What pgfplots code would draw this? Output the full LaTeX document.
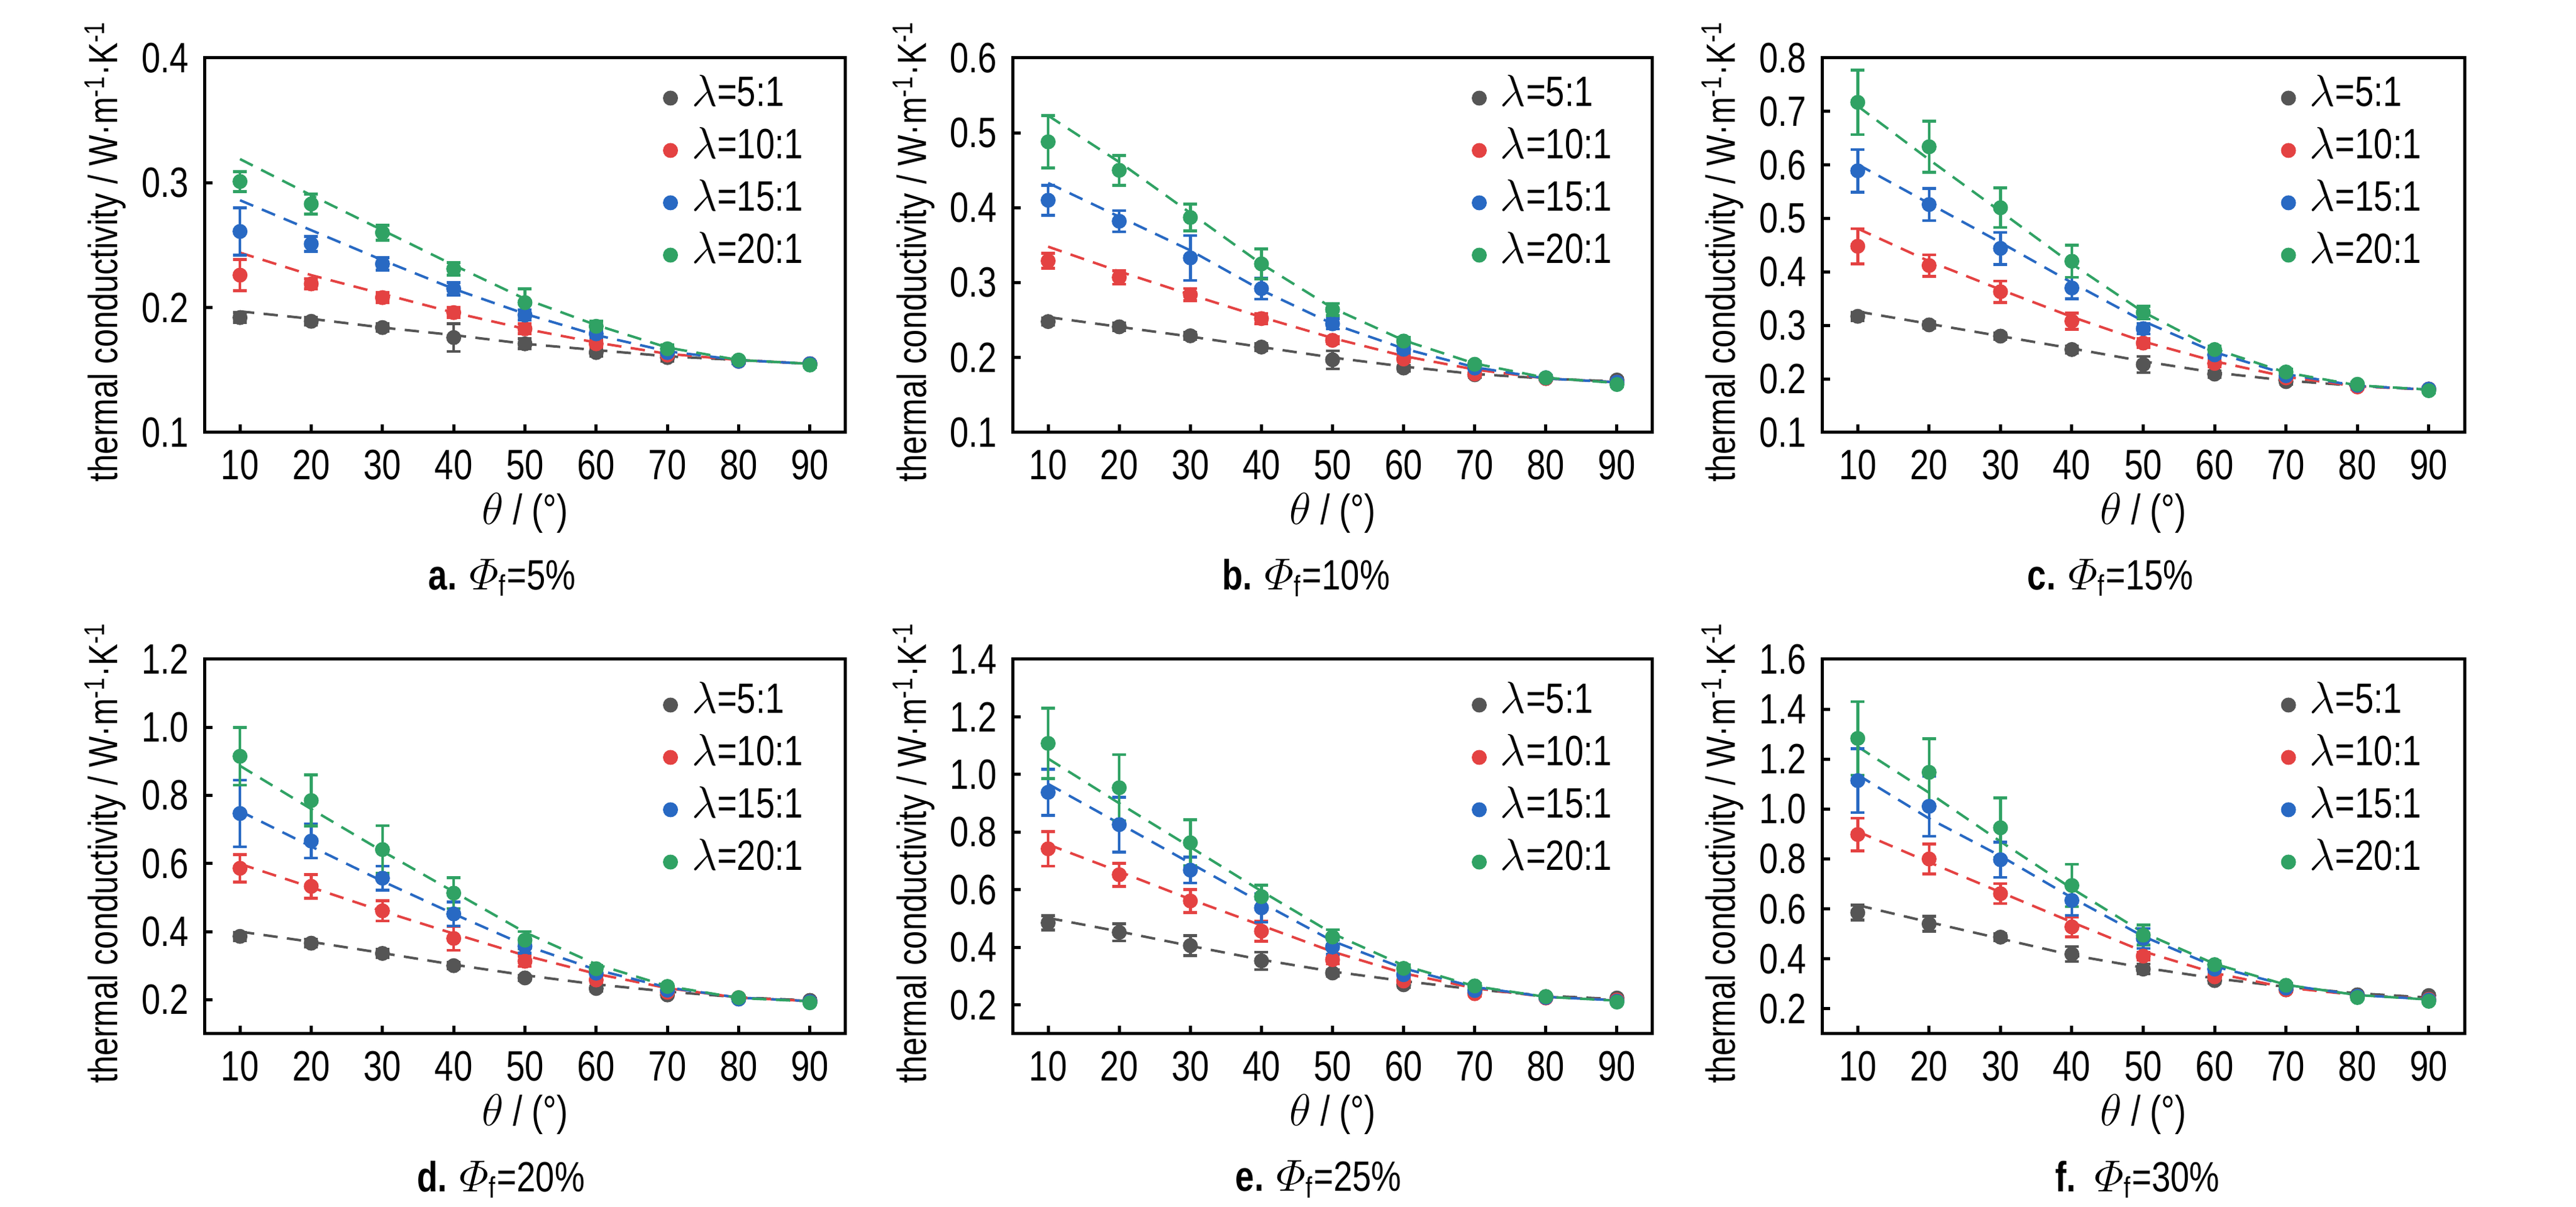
\documentclass[border=0pt]{standalone}
\usepackage{amsmath}
\usepackage{fontspec}
\setmainfont{Liberation Sans}[FakeStretch=0.8]
\usepackage{pgfplots}
\usepackage{pgfplotstable}
\pgfplotsset{compat=1.18}

\definecolor{cgray}{RGB}{85,85,85}
\definecolor{cred}{RGB}{228,66,66}
\definecolor{cblue}{RGB}{40,105,195}
\definecolor{cgreen}{RGB}{48,162,100}

\pgfplotstableread{
x k1 e1 k2 e2 k3 e3 k4 e4
10 0.192 0.004 0.226 0.0125 0.261 0.019 0.301 0.008
20 0.189 0.003 0.219 0.004 0.251 0.006 0.283 0.008
30 0.184 0.003 0.208 0.004 0.235 0.005 0.260 0.006
40 0.176 0.011 0.196 0.004 0.215 0.005 0.231 0.005
50 0.171 0.004 0.183 0.004 0.194 0.004 0.204 0.011
60 0.164 0.003 0.171 0.003 0.179 0.003 0.185 0.004
70 0.160 0.003 0.162 0.003 0.164 0.003 0.167 0.003
80 0.157 0.002 0.157 0.002 0.157 0.002 0.158 0.002
90 0.155 0.002 0.155 0.002 0.155 0.002 0.154 0.002
}\tabA
\pgfplotstableread{
x f1 f2 f3 f4
10 0.197 0.244 0.286 0.319
20 0.191 0.226 0.262 0.290
30 0.184 0.211 0.238 0.262
40 0.178 0.196 0.215 0.234
50 0.171 0.183 0.195 0.207
60 0.166 0.172 0.178 0.186
70 0.161 0.163 0.165 0.168
80 0.158 0.158 0.158 0.158
90 0.155 0.155 0.155 0.155
}\fitA
\pgfplotstableread{
x k1 e1 k2 e2 k3 e3 k4 e4
10 0.248 0.005 0.329 0.010 0.410 0.020 0.488 0.035
20 0.241 0.005 0.307 0.009 0.382 0.014 0.450 0.020
30 0.229 0.005 0.284 0.008 0.333 0.030 0.387 0.018
40 0.214 0.005 0.252 0.007 0.292 0.014 0.325 0.020
50 0.197 0.012 0.223 0.005 0.245 0.007 0.264 0.008
60 0.186 0.004 0.198 0.004 0.211 0.005 0.222 0.005
70 0.177 0.004 0.178 0.004 0.186 0.004 0.191 0.004
80 0.172 0.003 0.172 0.003 0.173 0.003 0.173 0.003
90 0.170 0.003 0.167 0.003 0.167 0.003 0.164 0.003
}\tabB
\pgfplotstableread{
x f1 f2 f3 f4
10 0.254 0.348 0.433 0.523
20 0.241 0.315 0.388 0.461
30 0.228 0.284 0.343 0.393
40 0.214 0.254 0.290 0.325
50 0.200 0.226 0.245 0.266
60 0.188 0.202 0.212 0.223
70 0.178 0.184 0.187 0.192
80 0.172 0.172 0.172 0.173
90 0.168 0.167 0.167 0.166
}\fitB
\pgfplotstableread{
x k1 e1 k2 e2 k3 e3 k4 e4
10 0.317 0.008 0.448 0.033 0.589 0.040 0.717 0.060
20 0.301 0.006 0.412 0.020 0.526 0.030 0.634 0.048
30 0.280 0.006 0.363 0.020 0.444 0.030 0.520 0.037
40 0.255 0.007 0.308 0.015 0.370 0.020 0.420 0.030
50 0.227 0.015 0.267 0.008 0.294 0.010 0.324 0.012
60 0.209 0.006 0.229 0.006 0.245 0.006 0.255 0.006
70 0.195 0.005 0.202 0.005 0.206 0.005 0.213 0.005
80 0.187 0.004 0.185 0.004 0.188 0.004 0.190 0.004
90 0.181 0.004 0.181 0.004 0.181 0.004 0.178 0.004
}\tabC
\pgfplotstableread{
x f1 f2 f3 f4
10 0.326 0.481 0.601 0.710
20 0.303 0.420 0.528 0.610
30 0.280 0.367 0.455 0.513
40 0.257 0.316 0.380 0.415
50 0.233 0.270 0.308 0.325
60 0.212 0.233 0.250 0.256
70 0.197 0.204 0.209 0.212
80 0.187 0.186 0.187 0.188
90 0.180 0.180 0.180 0.180
}\fitC
\pgfplotstableread{
x k1 e1 k2 e2 k3 e3 k4 e4
10 0.386 0.012 0.586 0.040 0.747 0.098 0.915 0.085
20 0.366 0.012 0.533 0.035 0.666 0.050 0.785 0.075
30 0.336 0.012 0.461 0.030 0.557 0.035 0.641 0.070
40 0.300 0.010 0.380 0.035 0.452 0.035 0.513 0.045
50 0.264 0.008 0.313 0.015 0.357 0.020 0.375 0.025
60 0.233 0.008 0.258 0.008 0.278 0.010 0.291 0.010
70 0.214 0.006 0.222 0.006 0.228 0.006 0.239 0.006
80 0.202 0.005 0.206 0.005 0.202 0.005 0.206 0.005
90 0.198 0.005 0.194 0.005 0.194 0.005 0.191 0.005
}\tabD
\pgfplotstableread{
x f1 f2 f3 f4
10 0.400 0.599 0.754 0.887
20 0.370 0.530 0.650 0.760
30 0.337 0.460 0.548 0.636
40 0.303 0.394 0.452 0.517
50 0.272 0.330 0.360 0.398
60 0.245 0.276 0.288 0.304
70 0.224 0.234 0.236 0.240
80 0.207 0.206 0.206 0.205
90 0.198 0.196 0.196 0.195
}\fitD
\pgfplotstableread{
x k1 e1 k2 e2 k3 e3 k4 e4
10 0.485 0.025 0.742 0.060 0.938 0.080 1.108 0.122
20 0.452 0.030 0.652 0.040 0.826 0.095 0.954 0.115
30 0.406 0.035 0.561 0.040 0.668 0.045 0.763 0.080
40 0.353 0.030 0.456 0.035 0.537 0.050 0.576 0.040
50 0.311 0.012 0.357 0.015 0.401 0.025 0.436 0.025
60 0.270 0.010 0.283 0.010 0.305 0.012 0.327 0.012
70 0.243 0.008 0.239 0.008 0.250 0.008 0.266 0.008
80 0.229 0.006 0.224 0.006 0.226 0.006 0.229 0.006
90 0.224 0.006 0.217 0.006 0.213 0.006 0.210 0.006
}\tabE
\pgfplotstableread{
x f1 f2 f3 f4
10 0.502 0.757 0.967 1.055
20 0.455 0.663 0.830 0.900
30 0.405 0.567 0.692 0.748
40 0.357 0.476 0.555 0.595
50 0.316 0.385 0.422 0.448
60 0.283 0.310 0.327 0.337
70 0.254 0.258 0.262 0.265
80 0.232 0.228 0.228 0.228
90 0.220 0.217 0.216 0.215
}\fitE
\pgfplotstableread{
x k1 e1 k2 e2 k3 e3 k4 e4
10 0.585 0.030 0.898 0.065 1.114 0.128 1.283 0.147
20 0.540 0.030 0.800 0.060 1.011 0.120 1.147 0.135
30 0.487 0.015 0.661 0.040 0.797 0.070 0.925 0.120
40 0.419 0.030 0.528 0.040 0.634 0.060 0.694 0.085
50 0.359 0.020 0.411 0.015 0.482 0.040 0.495 0.040
60 0.313 0.010 0.328 0.010 0.359 0.012 0.377 0.015
70 0.276 0.008 0.276 0.008 0.283 0.008 0.294 0.008
80 0.256 0.007 0.250 0.007 0.250 0.007 0.245 0.007
90 0.253 0.007 0.238 0.007 0.235 0.007 0.230 0.007
}\tabF
\pgfplotstableread{
x f1 f2 f3 f4
10 0.615 0.910 1.137 1.250
20 0.547 0.787 0.962 1.065
30 0.481 0.667 0.812 0.870
40 0.415 0.547 0.645 0.682
50 0.365 0.430 0.490 0.505
60 0.322 0.343 0.370 0.380
70 0.288 0.285 0.295 0.296
80 0.262 0.255 0.255 0.255
90 0.245 0.240 0.238 0.237
}\fitF

\pgfplotsset{
  pts/.style={only marks, mark=*, mark size=2.2pt, color=#1,
    mark options={solid, fill=#1, draw=#1},
    error bars/.cd, y dir=both, y explicit,
    error bar style={line width=0.9pt, #1},
    error mark options={rotate=90, line width=0.9pt, mark size=2.2pt, #1}},
  fitline/.style={#1, line width=0.8pt, dash pattern=on 4.6pt off 3pt, no marks, forget plot},
  panel/.style={
    scale only axis, width=#1, height=120.2pt, anchor=south west,
    xmin=5, xmax=95, xtick={10,20,...,90},
    tick align=inside, tick pos=left, major tick length=2.6pt,
    tick style={line width=1pt, black},
    axis line style={line width=1pt},
    every axis/.append style={font=\fontsize{13.6}{16}\selectfont},
    /pgf/number format/assume math mode=true,
    yticklabel style={xshift=-1.5pt, /pgf/number format/fixed, /pgf/number format/fixed zerofill, /pgf/number format/precision=1},
    xticklabel style={yshift=-2pt},
    xlabel={$\theta$ / (°)},
    ylabel={thermal conductivity / W·m\textsuperscript{-1}·K\textsuperscript{-1}},
    xlabel style={at={(axis description cs:0.5,-0.2163)}, anchor=center},
    ylabel style={at={(axis description cs:-0.1545,0.4834)}, anchor=center, font=\fontsize{13.1}{15}\selectfont},
    title style={anchor=center, yshift=-6pt},
    legend cell align=left,
    legend image code/.code={\draw[##1] plot coordinates {(0pt,0pt)};},
    legend style={anchor=north west, draw=none, fill=none, inner sep=0pt, outer sep=0pt,
      row sep=2.4pt, column sep=0pt, nodes={inner sep=0pt, text height=9.8pt, text depth=4.6pt}},
  }
}

\newcommand\plotpanel[2]{%
  \addplot[fitline=cgray] table[x=x,y=f1]{#2};
  \addplot[fitline=cred] table[x=x,y=f2]{#2};
  \addplot[fitline=cblue] table[x=x,y=f3]{#2};
  \addplot[fitline=cgreen] table[x=x,y=f4]{#2};
  \addplot[pts=cgray] table[x=x,y=k1,y error=e1]{#1};
  \addlegendentry{\hspace*{4.6pt}$\lambda$=5:1}
  \addplot[pts=cred] table[x=x,y=k2,y error=e2]{#1};
  \addlegendentry{\hspace*{4.6pt}$\lambda$=10:1}
  \addplot[pts=cblue] table[x=x,y=k3,y error=e3]{#1};
  \addlegendentry{\hspace*{4.6pt}$\lambda$=15:1}
  \addplot[pts=cgreen] table[x=x,y=k4,y error=e4]{#1};
  \addlegendentry{\hspace*{4.6pt}$\lambda$=20:1}
}

\begin{document}
\begin{tikzpicture}
\useasboundingbox (0,0) rectangle (826.8pt,387.4pt);

\begin{axis}[panel=205.8pt, at={(65.6pt,248.6pt)},
  ymin=0.1, ymax=0.4, ytick={0.1,0.2,0.3,0.4},
  legend style={at={(axis description cs:0.7163,0.9526)}},
  title={\textbf{a.} $\varPhi$\textsubscript{f}=5\%},
  title style={at={(axis description cs:0.4645,-0.3877)}}]
\plotpanel{\tabA}{\fitA}
\end{axis}

\begin{axis}[panel=205.4pt, at={(325pt,248.6pt)},
  ymin=0.1, ymax=0.6, ytick={0.1,0.2,0.3,0.4,0.5,0.6},
  legend style={at={(axis description cs:0.7186,0.9526)}},
  title={\textbf{b.} $\varPhi$\textsubscript{f}=10\%},
  title style={at={(axis description cs:0.4586,-0.3877)}}]
\plotpanel{\tabB}{\fitB}
\end{axis}

\begin{axis}[panel=206.2pt, at={(584.8pt,248.6pt)},
  ymin=0.1, ymax=0.8, ytick={0.1,0.2,0.3,0.4,0.5,0.6,0.7,0.8},
  legend style={at={(axis description cs:0.7154,0.9526)}},
  title={\textbf{c.} $\varPhi$\textsubscript{f}=15\%},
  title style={at={(axis description cs:0.449,-0.3877)}}]
\plotpanel{\tabC}{\fitC}
\end{axis}

\begin{axis}[panel=205.8pt, at={(65.6pt,55.6pt)},
  ymin=0.1, ymax=1.2, ytick={0.2,0.4,0.6,0.8,1.0,1.2},
  legend style={at={(axis description cs:0.7163,0.9376)}},
  title={\textbf{d.} $\varPhi$\textsubscript{f}=20\%},
  title style={at={(axis description cs:0.4626,-0.389)}}]
\plotpanel{\tabD}{\fitD}
\end{axis}

\begin{axis}[panel=205.4pt, at={(325pt,55.6pt)},
  ymin=0.1, ymax=1.4, ytick={0.2,0.4,0.6,0.8,1.0,1.2,1.4},
  legend style={at={(axis description cs:0.7186,0.9376)}},
  title={\textbf{e.} $\varPhi$\textsubscript{f}=25\%},
  title style={at={(axis description cs:0.478,-0.389)}}]
\plotpanel{\tabE}{\fitE}
\end{axis}

\begin{axis}[panel=206.2pt, at={(584.8pt,55.6pt)},
  ymin=0.1, ymax=1.6, ytick={0.2,0.4,0.6,0.8,1.0,1.2,1.4,1.6},
  legend style={at={(axis description cs:0.7154,0.9376)}},
  title={\textbf{f.}\ \ $\varPhi$\textsubscript{f}=30\%},
  title style={at={(axis description cs:0.491,-0.389)}}]
\plotpanel{\tabF}{\fitF}
\end{axis}
\end{tikzpicture}
\end{document}
